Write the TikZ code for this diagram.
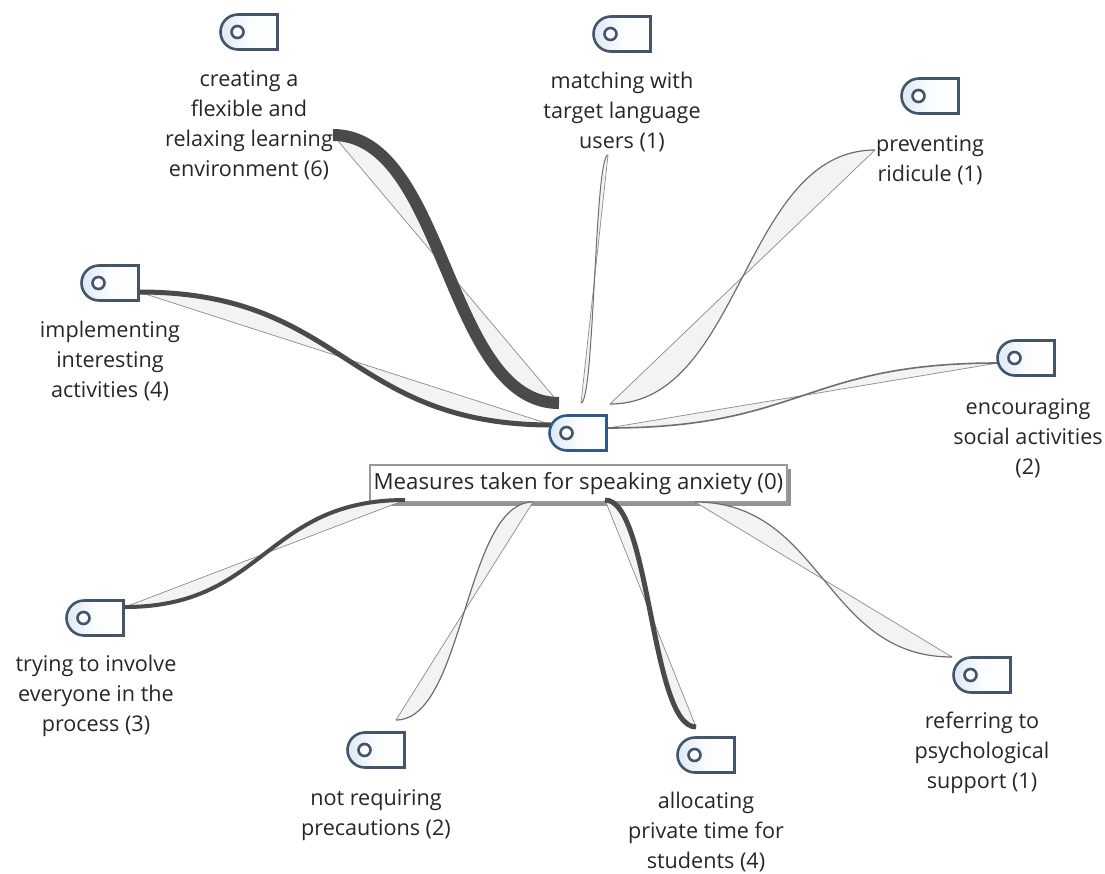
\documentclass[tikz,border=0pt]{standalone}
\usepackage{fontspec}
\setmainfont{Open Sans}
\usetikzlibrary{shapes.misc,shadows,calc}
\definecolor{iconedge}{HTML}{44546A}
\definecolor{centeredge}{HTML}{2F5A8C}
\definecolor{iconfill}{HTML}{DCE9F5}
\definecolor{linkdark}{HTML}{4A4A4A}
\definecolor{linkthin}{HTML}{6E6E6E}
\definecolor{lensfill}{HTML}{F3F3F3}
\tikzset{
  iconbox/.style={rounded rectangle,rounded rectangle right arc=none,minimum width=57pt,minimum height=35pt,inner sep=0pt,
    draw=#1,line width=2.6pt,left color=iconfill,right color=white,middle color=white!90!iconfill,
    path picture={\draw[iconedge,line width=2.6pt,fill=white!85!iconfill] ([xshift=17pt]path picture bounding box.west) circle (6pt);}},
  iconbox/.default=iconedge,
  lbl/.style={align=center,font=\fontsize{21.6}{30}\selectfont,text=black!85,inner sep=0pt},
  mainlbl/.style={draw=gray!80,line width=1.4pt,fill=white,minimum width=417pt,minimum height=37pt,inner sep=0pt,
    font=\fontsize{22.2}{24}\selectfont,text=black!85,
    drop shadow={shadow xshift=4pt,shadow yshift=-4pt,fill=gray!85,opacity=1}},
  lens/.style={fill=lensfill,draw=none},
  chord/.style={draw=linkthin!80,line width=0.7pt},
  arc/.style={draw=#1,line cap=butt},
  arc/.default=linkthin
}
\newcommand{\linkshape}[4]{%
  \path let \p1=(#1),\p2=(#2),\n1={0.5*(\x1+\x2)} in
    [lens] (#1) .. controls (\n1,\y1) and (\n1,\y2) .. (#2) -- cycle;
  \draw[chord] (#1) -- (#2);
  \path let \p1=(#1),\p2=(#2),\n1={0.5*(\x1+\x2)} in
    [arc=#4,line width=#3] (#1) .. controls (\n1,\y1) and (\n1,\y2) .. (#2);
}
\begin{document}
\begin{tikzpicture}[x=1pt,y=-1pt]
\useasboundingbox (0,0) rectangle (1105,873);
% labels
\node[lbl] (l1) at (249,125) {creating a\\flexible and\\relaxing learning\\environment (6)};
\node[lbl] (l2) at (622,112) {matching with\\target language\\users (1)};
\node[lbl] (l3) at (930,160) {preventing\\ridicule (1)};
\node[lbl] (l4) at (1028,438) {encouraging\\social activities\\(2)};
\node[lbl] (l5) at (110,361) {implementing\\interesting\\activities (4)};
\node[lbl] (l6) at (96,696) {trying to involve\\everyone in the\\process (3)};
\node[lbl] (l7) at (376,815) {not requiring\\precautions (2)};
\node[lbl] (l8) at (706,832) {allocating\\private time for\\students (4)};
\node[lbl] (l9) at (982,753) {referring to\\psychological\\support (1)};
\node[mainlbl] (l0) at (578.5,483.5) {Measures taken for speaking anxiety (0)};
% link ends
\coordinate (a1) at (333,135); \coordinate (b1) at (559,403);
\coordinate (a2) at (608,155); \coordinate (b2) at (581,403);
\coordinate (a3) at (875,150); \coordinate (b3) at (610,404);
\coordinate (a4) at (998,363); \coordinate (b4) at (608,428);
\coordinate (a5) at (139,292); \coordinate (b5) at (552,425);
\coordinate (a6) at (125,607); \coordinate (b6) at (405,500);
\coordinate (a7) at (396,720); \coordinate (b7) at (533,502);
\coordinate (a8) at (696,727); \coordinate (b8) at (605,500);
\coordinate (a9) at (952,657); \coordinate (b9) at (695,502);
% links
\linkshape{a1}{b1}{12pt}{linkdark}
\linkshape{a2}{b2}{1pt}{linkthin}
\linkshape{a3}{b3}{1.2pt}{linkthin}
\linkshape{a4}{b4}{1.6pt}{linkthin}
\linkshape{a5}{b5}{5pt}{linkdark}
\linkshape{a6}{b6}{4pt}{linkdark}
\linkshape{a7}{b7}{1.2pt}{linkthin}
\linkshape{a8}{b8}{5pt}{linkdark}
\linkshape{a9}{b9}{1.2pt}{linkthin}
% icons
\node[iconbox] (i1) at (249,32) {};
\node[iconbox] (i2) at (622,34) {};
\node[iconbox] (i3) at (930,96) {};
\node[iconbox] (i4) at (1026,358) {};
\node[iconbox] (i5) at (110,283) {};
\node[iconbox] (i6) at (95,618) {};
\node[iconbox] (i7) at (376,750) {};
\node[iconbox] (i8) at (706,755) {};
\node[iconbox] (i9) at (982,675) {};
\node[iconbox=centeredge] (i0) at (578,433) {};
\end{tikzpicture}
\end{document}
